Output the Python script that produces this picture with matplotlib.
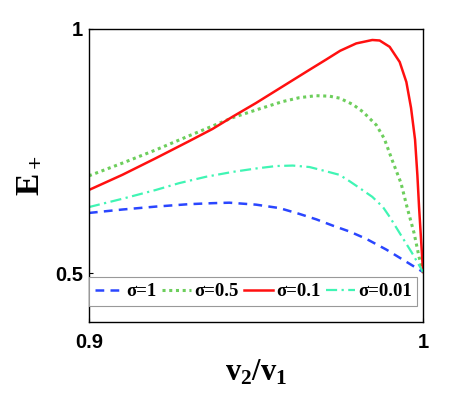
import matplotlib
matplotlib.use("Agg")
import matplotlib.pyplot as plt

plt.rcParams["mathtext.fontset"] = "custom"
plt.rcParams["mathtext.rm"] = "Liberation Serif:bold"
plt.rcParams["mathtext.bf"] = "Liberation Serif:bold"
plt.rcParams["mathtext.it"] = "Liberation Serif:bold"

# values
x_s1 = [0.900, 0.910, 0.920, 0.930, 0.937, 0.942, 0.950, 0.957, 0.963, 0.968,
        0.973, 0.978, 0.983, 0.989, 0.995, 1.000]
e_s1 = [0.623, 0.630, 0.636, 0.641, 0.643, 0.644, 0.640, 0.633, 0.621, 0.610,
        0.597, 0.585, 0.570, 0.548, 0.523, 0.502]

x_s05 = [0.900, 0.910, 0.920, 0.930, 0.943, 0.951, 0.958, 0.963, 0.968, 0.972,
         0.975, 0.979, 0.982, 0.986, 0.9884, 0.9907, 0.9934, 0.9952, 0.9973,
         0.9988, 1.000]
e_s05 = [0.699, 0.725, 0.752, 0.781, 0.818, 0.836, 0.851, 0.859, 0.863, 0.862,
         0.858, 0.845, 0.830, 0.803, 0.775, 0.732, 0.684, 0.635, 0.582,
         0.533, 0.502]

x_s01 = [0.900, 0.910, 0.920, 0.930, 0.937, 0.943, 0.950, 0.958, 0.966, 0.971,
         0.9752, 0.980, 0.9848, 0.987, 0.990, 0.993, 0.995, 0.9964, 0.9976,
         0.9983, 0.9988, 0.9994, 1.000]
e_s01 = [0.670, 0.701, 0.735, 0.770, 0.795, 0.820, 0.848, 0.882, 0.916, 0.937,
         0.955, 0.970, 0.977, 0.976, 0.963, 0.932, 0.891, 0.838, 0.773,
         0.700, 0.635, 0.568, 0.502]

x_s001 = [0.900, 0.910, 0.920, 0.927, 0.935, 0.943, 0.950, 0.956, 0.961, 0.966,
          0.970, 0.975, 0.978, 0.981, 0.9848, 0.988, 0.990, 0.9937, 0.9967, 1.000]
e_s001 = [0.635, 0.652, 0.670, 0.684, 0.697, 0.707, 0.714, 0.719, 0.720, 0.717,
          0.710, 0.701, 0.688, 0.674, 0.656, 0.635, 0.615, 0.574, 0.541, 0.502]

labels = ["σ=1", "σ=0.5", "σ=0.1", "σ=0.01"]

fig = plt.figure(figsize=(4.68, 3.94), dpi=100)
ax = fig.add_axes([0.190, 0.183, 0.714, 0.744])

ax.plot(x_s1, e_s1, color="#2a46ff", linestyle=(0, (3.5, 2.5)), lw=1.8, label=labels[0])
ax.plot(x_s05, e_s05, color="#6dce5c", linestyle=(0, (1, 1.2)), lw=2.2, label=labels[1])
ax.plot(x_s01, e_s01, color="#ff1010", linestyle="-", lw=1.8, label=labels[2])
ax.plot(x_s001, e_s001, color="#40f5b4", linestyle=(0, (5, 2, 1, 2)), lw=1.6, label=labels[3])

ax.set_xlim(0.9, 1.0)
ax.set_ylim(0.4, 1.0)
ax.set_xticks([0.9, 1.0])
ax.set_xticklabels(["0.9", "1"])
ax.set_yticks([0.5, 1.0])
ax.set_yticklabels(["0.5", "1"])
ax.tick_params(direction="in", length=3, width=0.8)
ax.tick_params(axis="x", pad=8)
ax.tick_params(axis="y", pad=4)
for lab in ax.get_xticklabels() + ax.get_yticklabels():
    lab.set_fontfamily("Liberation Sans")
    lab.set_fontweight("bold")
    lab.set_fontsize(14.5)
for sp in ax.spines.values():
    sp.set_linewidth(1.0)

ax.set_xlabel(r"$\mathbf{v_2/v_1}$", fontsize=22, labelpad=4)
ax.set_ylabel(r"$\mathbf{E_+}$", fontsize=24, labelpad=8)

leg = ax.legend(loc="lower left", bbox_to_anchor=(0.0, 0.055), ncol=4,
                borderaxespad=0, fancybox=False, framealpha=1,
                handlelength=1.55, handletextpad=0.15, columnspacing=0.3,
                borderpad=0.3,
                prop={"family": "Liberation Serif", "weight": "bold", "size": 13.5})
leg.get_frame().set_edgecolor("#999999")
leg.get_frame().set_linewidth(0.8)

plt.savefig("out.png", dpi=100)
